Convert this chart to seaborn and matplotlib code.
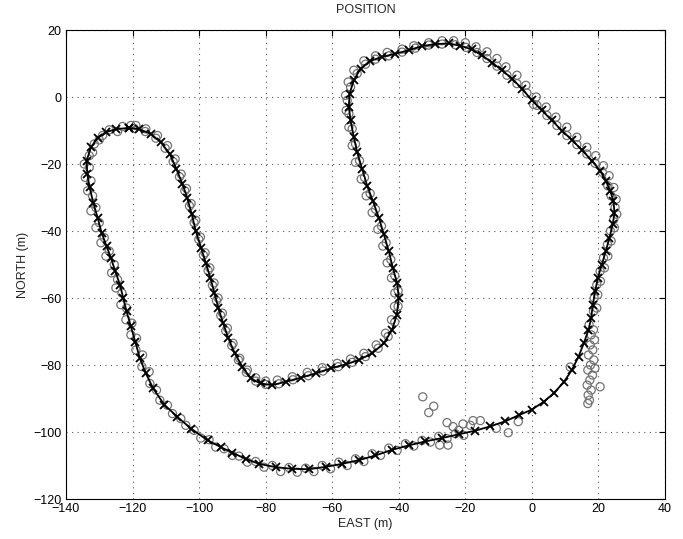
import numpy as np
import pandas as pd
import matplotlib
matplotlib.use("Agg")
import matplotlib.pyplot as plt
import seaborn as sns

# Trayectoria estimada (linea con x), tramo a tramo
path_left_arm = [(-121, -9.2), (-125, -9.6), (-128, -10.5), (-130.5, -12.2), (-132.5, -15),
                 (-133.8, -19), (-133.6, -23), (-132.9, -27), (-131.8, -31.5), (-130.5, -36),
                 (-129.3, -40.5), (-127.8, -44.5), (-126.5, -48), (-125.2, -52), (-123.8, -56),
                 (-122.8, -60), (-121.8, -64), (-120.5, -68.5), (-119.2, -73), (-117.8, -78),
                 (-116, -82.5), (-113.8, -87), (-110.5, -91.8), (-106.5, -95.5), (-102.4, -99)]
path_bottom = [(-97.4, -102.5), (-93.5, -104.5), (-90, -106.2), (-86, -108), (-82, -109.5),
               (-77, -110.5), (-72, -111), (-67, -111.1), (-62, -110.4), (-57, -109.5),
               (-52, -108.4), (-47, -107), (-42, -105.3), (-37, -104), (-32, -102.8),
               (-27, -101.8), (-22, -100.7), (-17, -99.6), (-12.5, -98.3), (-8, -96.8),
               (-4, -95), (0, -93.3), (3.5, -91), (6.5, -88.5), (9.5, -85.2), (12, -81.5),
               (14, -77.5), (15.6, -73.5), (17, -69.5)]
path_right = [(17.8, -66), (18.3, -62), (19, -58), (19.8, -54), (21, -50), (22.2, -46),
              (23.3, -42), (24.3, -38), (24.8, -34.5), (24.5, -31), (23.5, -28), (22.2, -25),
              (20.5, -22), (18, -19), (15, -15.8), (12, -12.8), (9, -10), (6, -7), (3, -4),
              (0, -1), (-3, 2.5), (-6, 5.5), (-9, 8), (-12, 10.3), (-15, 12.4), (-18, 14.2)]
path_top = [(-21.5, 15.3), (-25, 16), (-29, 15.8), (-33, 15.2), (-37, 14), (-41, 12.9),
            (-45, 12), (-48.5, 10.8), (-51.5, 8.5), (-53.5, 5), (-54.8, 1), (-55, -3),
            (-54.5, -7), (-53.5, -12), (-52.5, -16.5), (-51, -21.5), (-49.5, -26.5),
            (-47.8, -31), (-46, -36), (-44.5, -41), (-43, -46), (-41.8, -51), (-40.5, -55.5),
            (-40, -60), (-40.6, -65), (-42, -69.5), (-44.5, -73.5), (-48, -76.5)]
path_inner = [(-52, -78.5), (-56, -79.8), (-60.5, -81), (-65, -82.5), (-69.5, -83.8),
              (-74, -85), (-78, -86), (-81.5, -85.5), (-84.5, -84), (-87, -80.5),
              (-89.3, -76.5), (-91.2, -72), (-92.8, -67.5), (-94.2, -63), (-95.4, -58.5),
              (-96.6, -54), (-98, -49.5), (-99.4, -45), (-101, -40), (-102.2, -35),
              (-103.6, -30), (-105, -26), (-106.8, -21.5), (-108.8, -17), (-111.5, -13.5),
              (-114.5, -11), (-118, -9.6), (-121, -9.2)]

# Medidas GPS (circulos grises)
gps_left_arm = [(-120.5, -8.5), (-123, -8.8), (-124.5, -10.3), (-127, -9.8), (-129, -11.5),
                (-130, -12.8), (-131.5, -14), (-132, -16.5), (-133, -17.5), (-134.5, -20),
                (-133, -21), (-134.2, -24), (-132.5, -25), (-133.5, -28), (-132, -29.5),
                (-131, -33), (-132.5, -34), (-130, -37.5), (-131, -39), (-128.5, -42),
                (-129.5, -43.5), (-127, -46), (-128, -47.5), (-125.5, -50), (-126.3, -52.5),
                (-124.5, -54.5), (-125, -57), (-123.2, -58.5), (-123.5, -62), (-121.8, -63),
                (-122, -66.5), (-120.2, -67.5), (-120.5, -71), (-118.8, -72), (-119, -75.5),
                (-117, -77), (-117.2, -80.5), (-115, -82), (-114.8, -85.5), (-112.8, -87.5),
                (-111.8, -90.5), (-109.5, -92), (-108, -94.5), (-105.5, -96), (-104, -98),
                (-101.5, -99.5)]
gps_bottom = [(-99.5, -101.8), (-97, -102.3), (-95, -104.5), (-92.5, -105), (-90, -107),
              (-88, -107.2), (-85.5, -109), (-83, -108.8), (-80.5, -110.5), (-78, -110),
              (-75.5, -111.8), (-73, -110.6), (-70.5, -112), (-68, -110.8), (-65.5, -111.8),
              (-63, -110), (-60.5, -111), (-58, -109), (-55.5, -110), (-53, -108),
              (-50.5, -108.8), (-48, -106.5), (-45.5, -107), (-43, -104.8), (-40.5, -105.5),
              (-38, -103.5), (-35.5, -104.2), (-33, -102.5), (-30.5, -103), (-28, -101.3),
              (-25.5, -102), (-27.7, -103.9), (-25.2, -103.9), (-23, -100.5), (-20.5, -101)]
gps_outliers = [(-32.8, -89.5), (-29.5, -92.3), (-31, -94.2), (-25.5, -97.2), (-23.7, -98.4),
                (-20.7, -97.6), (-17.7, -96.6), (-15.5, -96.6), (-10.7, -98.9), (-7.1, -100.2),
                (-4.1, -96.9), (11.5, -80.6), (-22, -99.5), (-18.5, -98)]
gps_streak = [(17.2, -68), (18.5, -69.5), (17.8, -71), (18.8, -72.5), (17.5, -74),
              (18.3, -75.5), (17, -77), (18.6, -78.5), (17.6, -80), (16.8, -81.5),
              (18.2, -83), (17.4, -84.5), (16.6, -86), (17.8, -87.5), (16.9, -89),
              (17.3, -90.5), (16.8, -91.5), (20.5, -86.5), (18.9, -81)]
gps_right = [(18.5, -64), (19.5, -63), (18.7, -60), (19.8, -59), (19.5, -56), (20.6, -55),
             (20.5, -52), (21.8, -51), (21.5, -48), (22.8, -47.5), (22.7, -44), (23.8, -43),
             (23.6, -40), (24.8, -39), (24.6, -36.5), (25.5, -35), (25, -33), (25.3, -30.5),
             (23.8, -29.5), (24.6, -27), (22.8, -26.5), (23.2, -23.5), (21.2, -22.5),
             (21.5, -20.5), (19, -19.8), (19.2, -17.5), (16.5, -17), (16.5, -15),
             (13.5, -14.2), (13.5, -12), (10.5, -11.5), (10.5, -9), (7.5, -8.5), (7.2, -6),
             (4.5, -5.5), (4.3, -3), (1.5, -2.5), (1.3, 0), (0.5, -2.2), (-1.5, 1.2),
             (-1.8, 3.5), (-4.5, 4), (-4.5, 6.5), (-7.5, 6.5), (-7.8, 9), (-10.5, 9.2),
             (-10.5, 11.5), (-13.5, 11.5), (-13.5, 13.5), (-16.5, 13.3), (-16.8, 15)]
gps_top = [(-19.8, 14.8), (-20, 16.2), (-23, 15.6), (-23.5, 16.8), (-27, 15.8), (-27, 16.8),
           (-31, 15.5), (-31, 16.2), (-35, 14.6), (-35.5, 15.3), (-39, 13.4), (-39, 14.3),
           (-43, 12.3), (-43.5, 13.3), (-47, 11.3), (-47, 12.3), (-50, 9.8), (-50.5, 10.8),
           (-52.5, 7), (-53.5, 8), (-54.5, 3), (-55.2, 4.5), (-55.5, -1), (-56, 0.5),
           (-55, -5), (-55.8, -4), (-54, -9.5), (-55, -9), (-53, -14), (-54, -14.5),
           (-51.8, -19), (-53, -19.5), (-50.3, -24), (-51.3, -24.5), (-48.6, -28.8),
           (-49.8, -29.5), (-47, -33.5), (-48, -34.5), (-45.2, -38.5), (-46.3, -39.5),
           (-43.8, -43.5), (-44.8, -44.5), (-42.4, -48.5), (-43.5, -49.5), (-41.2, -53.3),
           (-42.2, -54), (-40.2, -57.8), (-41.2, -58.5), (-40.2, -62.5), (-41.3, -62.5),
           (-41.2, -67.2), (-42.2, -66.5), (-43.2, -71.5), (-44, -70.5), (-46.2, -75),
           (-46.8, -74)]
gps_inner = [(-50, -77.5), (-50.5, -76.5), (-54, -79.2), (-54.5, -78.2), (-58.2, -80.5),
             (-58.5, -79.5), (-62.8, -81.8), (-63, -80.8), (-67.2, -83.2), (-67.5, -82.2),
             (-71.8, -84.4), (-72, -83.5), (-76, -85.6), (-76.5, -84.5), (-80, -85.8),
             (-80, -84.8), (-83, -84.8), (-83, -83.8), (-85.8, -82.2), (-85.5, -81.5),
             (-88.2, -78.5), (-87.8, -78), (-90.2, -74.2), (-89.8, -73.5), (-92, -69.8),
             (-91.5, -69), (-93.5, -65.2), (-93, -64.5), (-94.8, -60.8), (-94.3, -60),
             (-96, -56.2), (-95.5, -55.5), (-97.3, -51.8), (-96.8, -51), (-98.7, -47.2),
             (-98.2, -46.5), (-100.1, -42.5), (-99.6, -41.8), (-101.5, -37.5), (-101, -36.8),
             (-102.9, -32.5), (-102.4, -31.8), (-104.3, -28), (-103.8, -27.3), (-105.9, -23.8),
             (-105.4, -23), (-107.8, -19.3), (-107.2, -18.5), (-110.2, -15.3), (-109.5, -14.5),
             (-113, -12.3), (-112.5, -11.5), (-116.2, -10.3), (-116, -9.5), (-119.5, -9.4),
             (-119, -8.5)]

x_ticks = [-140, -120, -100, -80, -60, -40, -20, 0, 20, 40]
y_ticks = [-120, -100, -80, -60, -40, -20, 0, 20]

path = pd.DataFrame(path_left_arm + path_bottom + path_right + path_top + path_inner,
                    columns=["east", "north"])
gps = pd.DataFrame(gps_left_arm + gps_bottom + gps_outliers + gps_streak + gps_right
                   + gps_top + gps_inner, columns=["east", "north"])

sns.set_theme(style="white")
plt.rcParams["font.family"] = ["Liberation Sans", "DejaVu Sans"]

fig = plt.figure(figsize=(6.83, 5.39), dpi=100)
ax = fig.add_axes([0.0966, 0.0742, 0.8771, 0.8701])

sns.scatterplot(data=gps, x="east", y="north", ax=ax, marker="o", s=34,
                facecolor="none", edgecolor="0.45", linewidth=0.9, zorder=2)
sns.lineplot(data=path, x="east", y="north", ax=ax, sort=False, estimator=None,
             color="black", linewidth=1.3, marker="x", markersize=6,
             markeredgewidth=1.3, markeredgecolor="black", zorder=3)

ax.set_xlim(-140, 40)
ax.set_ylim(-120, 20)
ax.set_xticks(x_ticks)
ax.set_yticks(y_ticks)
ax.grid(True, linestyle=(0, (1, 4)), color="0.35", linewidth=0.8)
ax.tick_params(direction="in", length=4, width=0.8, top=True, right=True,
               labelsize=9, colors="black", pad=3)
for side in ax.spines.values():
    side.set_color("black")
    side.set_linewidth(0.8)

ax.set_title("POSITION", fontsize=9, pad=12)
ax.set_xlabel("EAST (m)", fontsize=9, labelpad=2)
ax.set_ylabel("NORTH (m)", fontsize=9, labelpad=3)

fig.savefig("out.png", dpi=100, facecolor="white")
